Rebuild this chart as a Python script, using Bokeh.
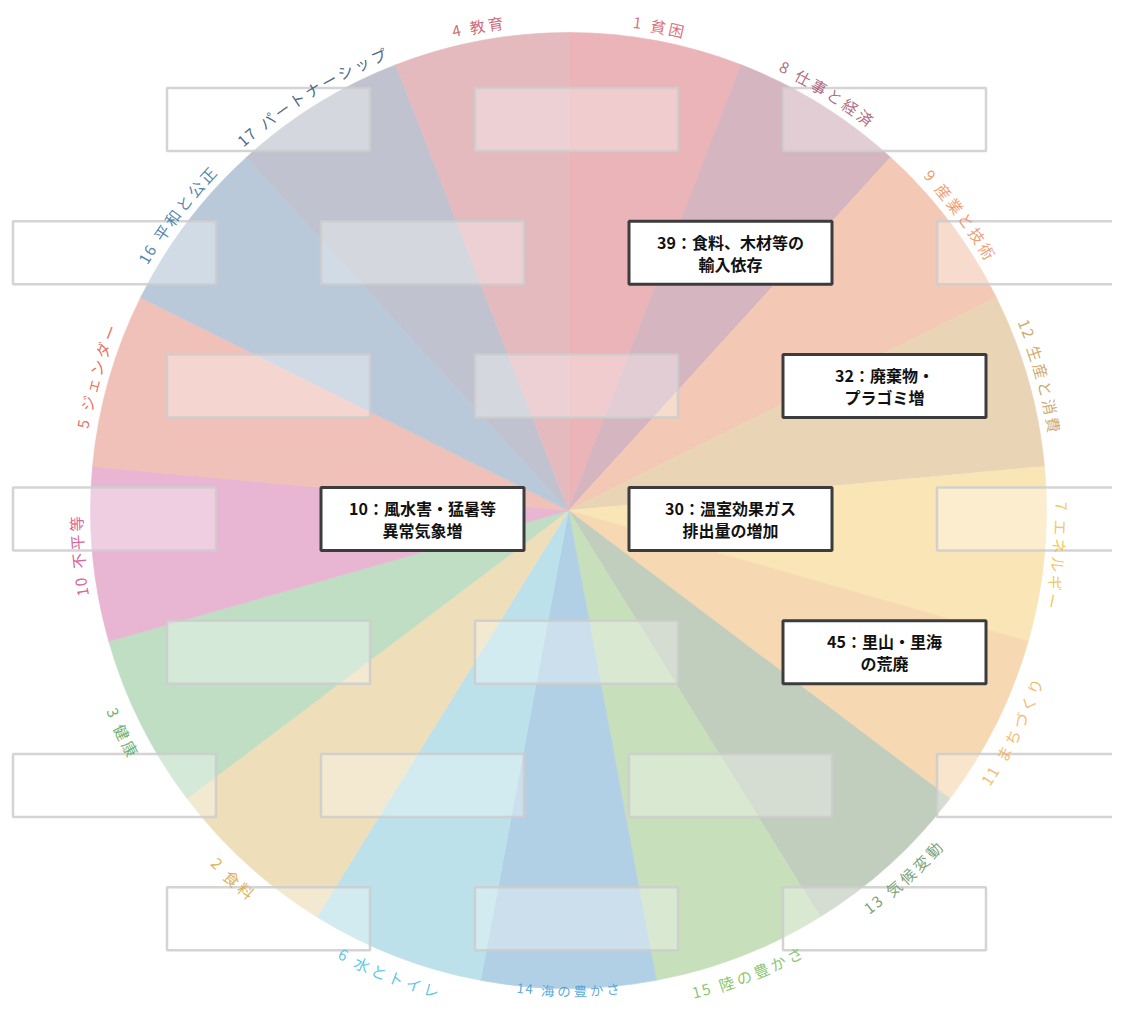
import math
from bokeh.plotting import figure
from bokeh.models import Range1d, ColumnDataSource
from bokeh.core.properties import value
from bokeh.embed import file_html
from bokeh.resources import INLINE

# ---------------- data ----------------
goals = [1, 8, 9, 12, 7, 11, 13, 15, 14, 6, 2, 3, 10, 5, 16, 17, 4]
names = ["貧困", "仕事と経済", "産業と技術", "生産と消費", "エネルギー", "まちづくり",
         "気候変動", "陸の豊かさ", "海の豊かさ", "水とトイレ", "食料", "健康",
         "不平等", "ジェンダー", "平和と公正", "パートナーシップ", "教育"]
wedge_colors = ["#eab4b8", "#d5b5bf", "#f3c9b5", "#e9d5b6", "#f9e5b5", "#f6d9b2",
                "#c1cdbd", "#c7dfbb", "#b2d0e5", "#bce1eb", "#eedfba", "#bfdec3",
                "#e8b6d2", "#f0c1b9", "#b9c9da", "#c0c3cf", "#e4babe"]
label_colors = ["#d9606e", "#a85a74", "#f0905f", "#c9a060", "#f0c448", "#f5b060",
                "#6d9a70", "#7dc060", "#4a9fd8", "#50c0e0", "#d8a84a", "#5aa860",
                "#d8508a", "#e86050", "#3a78a8", "#3a5878", "#c95a66"]
# labels whose glyph tops face the centre (lower part of the wheel)
inward = [False, False, False, False, False, True, True, True, True, True, True, True,
          False, False, False, False, False]

# honeycomb of boxes: (row, column slot)
box_rows = [0, 0, 0, 1, 1, 1, 1, 2, 2, 2, 3, 3, 3, 3, 4, 4, 4, 5, 5, 5, 5, 6, 6, 6]
box_cols = [1, 3, 5, 0, 2, 4, 6, 1, 3, 5, 0, 2, 4, 6, 1, 3, 5, 0, 2, 4, 6, 1, 3, 5]

note_rows = [1, 2, 3, 3, 4]
note_cols = [4, 5, 2, 4, 5]
note_line1 = ["39：食料、木材等の", "32：廃棄物・", "10：風水害・猛暑等", "30：温室効果ガス", "45：里山・里海"]
note_line2 = ["輸入依存", "プラゴミ増", "異常気象増", "排出量の増加", "の荒廃"]

# ---------------- layout ----------------
H = 1018
CX, CY = 568, H - 510
R = 478
RL_OUT = 493
RL_IN = 498
RL_BOTTOM = 480      # bottom label must stay inside the canvas
N = len(goals)
STEP = 360.0 / N
COL0, COLSTEP = 114, 154
ROW0, ROWSTEP = 119, 133.2
BW, BH = 203, 63
FONT = "Noto Sans CJK JP"

p = figure(width=1112, height=1002, x_range=Range1d(0, 1112), y_range=Range1d(16, 1018),
           output_backend="svg", toolbar_location=None, min_border=0)
p.axis.visible = False
p.grid.visible = False
p.outline_line_color = None
p.background_fill_color = "white"
p.border_fill_color = "white"

# wedges
starts = [math.pi / 2 - math.radians((i + 1) * STEP) for i in range(N)]
ends = [math.pi / 2 - math.radians(i * STEP) for i in range(N)]
wsrc = ColumnDataSource(dict(x=[CX] * N, y=[CY] * N, s=starts, e=ends, c=wedge_colors))
p.wedge(x="x", y="y", radius=R, start_angle="s", end_angle="e", direction="anticlock",
        fill_color="c", line_color="c", line_width=0.6, source=wsrc)

# boxes
bx = [COL0 + COLSTEP * c for c in box_cols]
by = [H - (ROW0 + ROWSTEP * r) for r in box_rows]
p.rect(x=bx, y=by, width=BW, height=BH, fill_color="white", fill_alpha=0.33,
       line_color="#cdcdcd", line_alpha=0.85, line_width=2.5)

nx = [COL0 + COLSTEP * c for c in note_cols]
ny = [H - (ROW0 + ROWSTEP * r) for r in note_rows]
p.rect(x=nx, y=ny, width=BW, height=BH, fill_color="white", fill_alpha=1.0,
       line_color="#3c3c3c", line_width=3)
p.text(x=nx, y=[v + 11 for v in ny], text=note_line1, text_align="center",
       text_baseline="middle", text_font=value(FONT), text_font_style="bold",
       text_font_size="16px", text_color="#111111")
p.text(x=nx, y=[v - 11 for v in ny], text=note_line2, text_align="center",
       text_baseline="middle", text_font=value(FONT), text_font_style="bold",
       text_font_size="16px", text_color="#111111")

# curved labels
def adv(ch, scale):
    if ch.isdigit():
        return 10.0 * scale
    if ch == " ":
        return 7.0 * scale
    return 18.5 * scale

cx_l, cy_l, ct, ca, cc, cs = [], [], [], [], [], []
for i in range(N):
    label = f"{goals[i]} {names[i]}"
    tc = (i + 0.5) * STEP
    bottom = abs(tc - 180) < 1
    scale = 0.88 if bottom else 1.0
    rl = RL_BOTTOM if bottom else (RL_IN if inward[i] else RL_OUT)
    total = sum(adv(ch, scale) for ch in label)
    s = -total / 2
    for ch in label:
        a = adv(ch, scale)
        mid = s + a / 2
        s += a
        d = math.degrees(mid / rl)
        th = tc - d if inward[i] else tc + d
        t = math.radians(th)
        cx_l.append(CX + rl * math.sin(t))
        cy_l.append(CY + rl * math.cos(t))
        ct.append(ch)
        ca.append(math.pi - t if inward[i] else -t)
        cc.append(label_colors[i])
        cs.append("13.5px" if bottom else "15.5px")

lsrc = ColumnDataSource(dict(x=cx_l, y=cy_l, t=ct, a=ca, c=cc, fs=cs))
p.text(x="x", y="y", text="t", angle="a", text_color="c", text_align="center",
       text_baseline="middle", text_font=value(FONT), text_font_size="fs",
       text_alpha=0.9, source=lsrc)

open("out.html", "w").write(file_html(p, INLINE))
